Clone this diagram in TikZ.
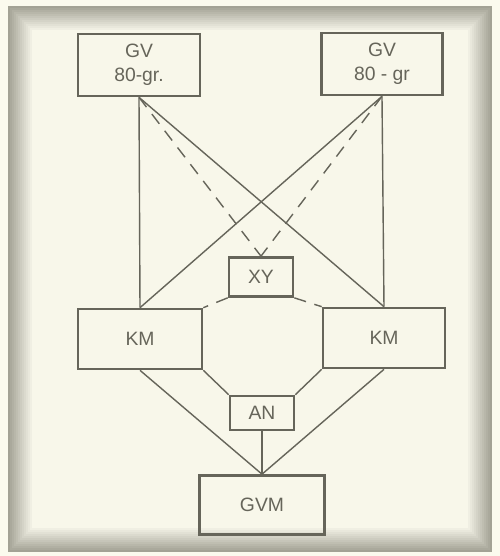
\documentclass[tikz,border=0pt]{standalone}
\usepackage{fontspec}
\setmainfont{Liberation Sans}
\usetikzlibrary{positioning}

\definecolor{paper}{HTML}{FBFAEE}
\definecolor{ink}{HTML}{66655A}
\definecolor{edge}{HTML}{A3A295}

\begin{document}
\begin{tikzpicture}[
    x=0.02cm, y=-0.02cm,
    box/.style={rectangle, draw=ink, line width=1.5pt, text=ink, align=center, inner sep=0pt, font=\fontsize{11}{13.5}\selectfont},
    link/.style={draw=ink, line width=0.8pt},
    dlink/.style={link, dash pattern=on 7pt off 5pt}
]
    % paper and its grey edge
    \fill[paper] (0,0) rectangle (500,556);
    \foreach \i [evaluate=\i as \p using {int(100-8*\i)}] in {0,...,12}
        \fill[edge!\p!paper] (8+2*\i,6+2*\i) rectangle (492-2*\i,552-2*\i);
    \useasboundingbox (0,0) rectangle (500,556);

    \node[box, minimum width=122*0.02cm, minimum height=62*0.02cm] (gvl) at (139,65) {GV\\80-gr.};
    \node[box, minimum width=121*0.02cm, minimum height=62*0.02cm] (gvr) at (382,64) {GV\\80 - gr};
    \node[box, minimum width=64*0.02cm, minimum height=39*0.02cm] (xy) at (261,277) {XY};
    \node[box, minimum width=124*0.02cm, minimum height=60*0.02cm] (kml) at (140,339) {KM};
    \node[box, minimum width=122*0.02cm, minimum height=60*0.02cm] (kmr) at (384,338) {KM};
    \node[box, minimum width=64*0.02cm, minimum height=34*0.02cm] (an) at (262,413) {AN};
    \node[box, minimum width=125*0.02cm, minimum height=59*0.02cm] (gvm) at (262,505) {GVM};

    % top boxes down to the KM boxes
    \draw[link] (gvl.south) -- (kml.north);
    \draw[link] (gvl.south) -- (kmr.north);
    \draw[link] (gvr.south) -- (kmr.north);
    \draw[link] (gvr.south) -- (kml.north);
    \draw[dlink] (gvl.south) -- (xy.north);
    \draw[dlink] (gvr.south) -- (xy.north);

    % XY to the KM boxes
    \draw[dlink] (xy.south west) -- (kml.north east);
    \draw[dlink] (xy.south east) -- (kmr.north west);

    % KM boxes down to AN and GVM
    \draw[link] (kml.south east) -- (an.north west);
    \draw[link] (kmr.south west) -- (an.north east);
    \draw[link] (kml.south) -- (gvm.north);
    \draw[link] (kmr.south) -- (gvm.north);
    \draw[link] (an.south) -- (gvm.north);

\end{tikzpicture}
\end{document}
